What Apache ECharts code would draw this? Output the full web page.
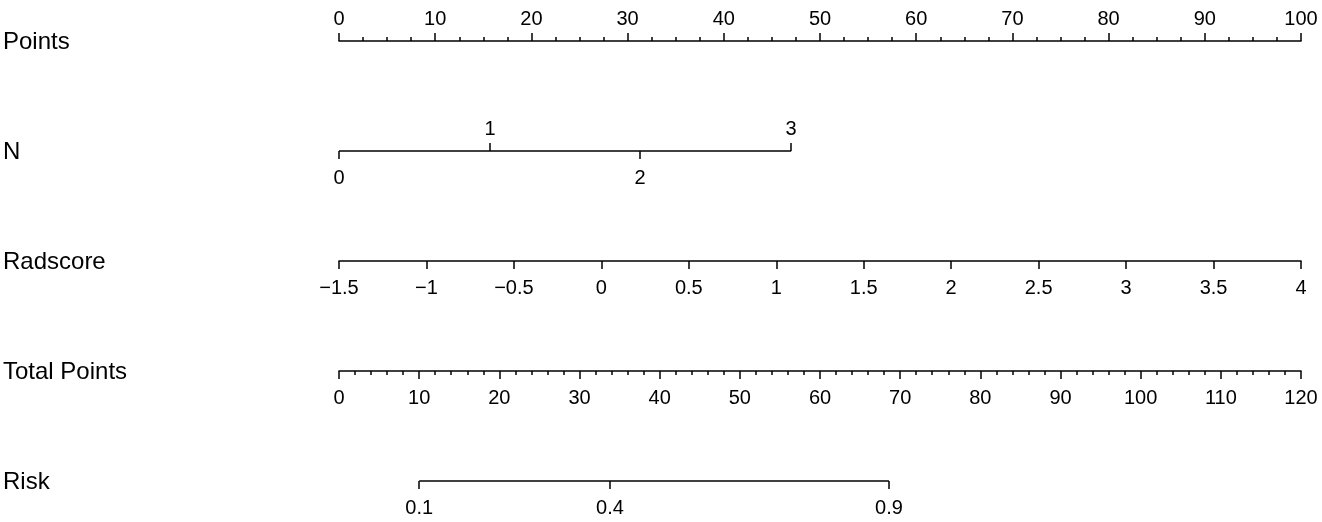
<!DOCTYPE html>
<html>
<head>
<meta charset="utf-8">
<title>Nomogram</title>
<script src="https://cdn.jsdelivr.net/npm/echarts@6/dist/echarts.min.js"></script>
<style>
  html, body { margin: 0; padding: 0; background: #fff; }
  #chart { width: 1322px; height: 522px; }
</style>
</head>
<body>
<div id="chart"></div>
<script>
// row names of the nomogram
const rowNames = ['Points', 'N', 'Radscore', 'Total Points', 'Risk'];
// N levels and where they sit on the Points scale
const nLevels = [0, 1, 2, 3];
const nPoints = [0, 15.7, 31.3, 47.0];
// axis ranges
const pointsRange = [0, 100];
const radscoreRange = [-1.5, 4];
const totalRange = [0, 120];
// risk labels and where they sit on the Total Points scale
const riskTicks = [0.1, 0.4, 0.9];
const riskTotal = [10.0, 33.8, 68.6];

const FONT = '"Liberation Sans", Arial, Helvetica, sans-serif';
const rowY = [41, 151, 261, 371, 481];
const line = { color: '#000', width: 1.5 };
const TICK_FS = 20;

var chart = echarts.init(document.getElementById('chart'));

const grids = rowY.map(y => ({ left: 339, right: 21, top: y, height: 0 }));

function lbl(pos, extra) {
  return Object.assign({ color: '#000', fontSize: TICK_FS, fontFamily: FONT, margin: pos === 'top' ? 12 : 17 }, extra);
}

function axis(grid, pos, min, max, extra) {
  return Object.assign({
    type: 'value', gridIndex: grid, position: pos, min: min, max: max,
    splitLine: { show: false },
    axisLine: { show: true, onZero: false, lineStyle: line },
    axisTick: { show: true, length: 8, lineStyle: line },
    axisLabel: lbl(pos)
  }, extra);
}

const minus = v => String(v).replace('-', '\u2212');
const nOdd = nPoints.filter((p, i) => i % 2 === 1);
const nEven = nPoints.filter((p, i) => i % 2 === 0);
const nLabel = v => String(nLevels[nPoints.indexOf(v)]);

const xAxes = [
  // Points
  axis(0, 'top', pointsRange[0], pointsRange[1], {
    interval: 10,
    minorTick: { show: true, splitNumber: 4, length: 4, lineStyle: line }
  }),
  // N (labels above)
  axis(1, 'top', pointsRange[0], pointsRange[1], {
    axisLine: { show: false },
    axisTick: { show: true, length: 8, lineStyle: line, customValues: nOdd },
    axisLabel: lbl('top', { customValues: nOdd, formatter: nLabel })
  }),
  // N (labels below)
  axis(1, 'bottom', pointsRange[0], pointsRange[1], {
    axisLine: { show: false },
    axisTick: { show: true, length: 8, lineStyle: line, customValues: nEven },
    axisLabel: lbl('bottom', { customValues: nEven, formatter: nLabel })
  }),
  // Radscore
  axis(2, 'bottom', radscoreRange[0], radscoreRange[1], {
    interval: 0.5,
    axisLabel: lbl('bottom', { formatter: minus })
  }),
  // Total Points
  axis(3, 'bottom', totalRange[0], totalRange[1], {
    interval: 10,
    minorTick: { show: true, splitNumber: 5, length: 4, lineStyle: line }
  }),
  // Risk
  axis(4, 'bottom', totalRange[0], totalRange[1], {
    axisLine: { show: false },
    axisTick: { show: true, length: 8, lineStyle: line, customValues: riskTotal },
    axisLabel: lbl('bottom', {
      customValues: riskTotal,
      formatter: v => String(riskTicks[riskTotal.indexOf(v)])
    })
  })
];

const yAxes = rowY.map((y, i) => ({ type: 'value', gridIndex: i, min: 0, max: 1, show: false }));

const segment = (xi, yi, pts) => ({
  type: 'line', xAxisIndex: xi, yAxisIndex: yi, clip: false, silent: true,
  symbol: 'none', lineStyle: line,
  data: [[pts[0], 0], [pts[pts.length - 1], 0]]
});

chart.setOption({
  animation: false,
  backgroundColor: '#fff',
  grid: grids,
  xAxis: xAxes,
  yAxis: yAxes,
  series: [segment(2, 1, nPoints), segment(5, 4, riskTotal)],
  graphic: rowNames.map((name, i) => ({
    type: 'text', left: 3, top: rowY[i] - 11,
    style: { text: name, fill: '#000', fontSize: 24, fontFamily: FONT }
  }))
});
</script>
</body>
</html>
